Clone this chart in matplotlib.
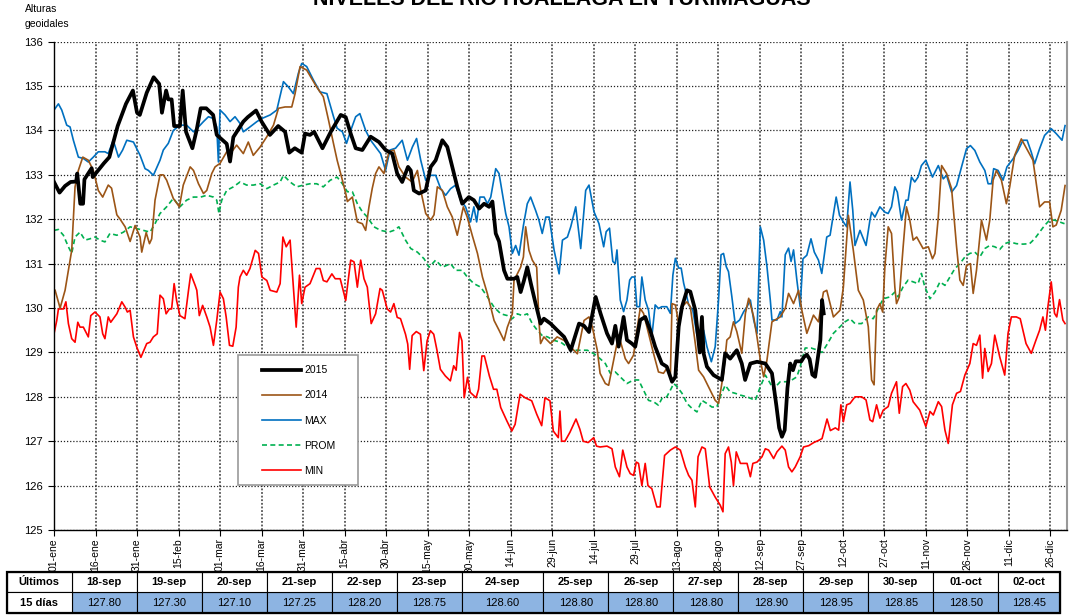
import matplotlib
matplotlib.use("Agg")
import matplotlib.pyplot as plt
from matplotlib.patches import Rectangle

plt.rcParams['font.family'] = ['Liberation Sans', 'DejaVu Sans']

# ---- data (x = days since 01-ene, y = altura geoidal) ----
serie_2015 = [(0, 132.84), (2, 132.6), (4, 132.75), (6, 132.84), (8, 132.85), (8.4, 133.03), (9.5, 132.35),
              (10.5, 132.35), (11, 132.9), (13.6, 133.15), (14, 132.95), (18, 133.26), (20, 133.4), (23, 134.1),
              (26, 134.6), (28.5, 134.9), (30, 134.4), (31, 134.35), (33.5, 134.85), (36, 135.2), (38, 135.05),
              (39, 134.4), (40.5, 134.9), (41.3, 134.7), (42.5, 134.7), (43.4, 134.1), (45.5, 134.1), (46.5, 134.9),
              (47.7, 133.97), (50, 133.6), (51.5, 134.0), (53, 134.5), (55, 134.5), (57.5, 134.35), (58.8, 133.9),
              (60.6, 133.8), (62.4, 133.7), (63.6, 133.3), (64.8, 133.85), (68.4, 134.2), (70, 134.3), (73, 134.45),
              (75, 134.2), (78, 133.9), (81, 134.1), (83.5, 133.97), (85, 133.5), (87, 133.6), (89.5, 133.5),
              (90.7, 133.93), (92.5, 133.9), (94, 133.97), (97, 133.6), (100, 133.97), (103.6, 134.35), (105.4, 134.3),
              (107.2, 133.93), (109, 133.6), (111.4, 133.56), (114.4, 133.86), (117.4, 133.74), (119.8, 133.56),
              (122.2, 133.48), (124, 133.03), (125.8, 132.84), (127.9, 133.18), (128.9, 133.1), (130, 132.65),
              (131.9, 132.58), (134.3, 132.65), (136.1, 133.18), (137.9, 133.33), (140.3, 133.78), (142.1, 133.63),
              (143.9, 133.18), (145.7, 132.73), (147.5, 132.35), (149.9, 132.5), (151.7, 132.43), (153.6, 132.24),
              (155.4, 132.35), (157.2, 132.28), (158.4, 132.4), (159.6, 131.68), (160.8, 131.5), (162.6, 130.85),
              (163.8, 130.66), (166.2, 130.66), (167.4, 130.7), (168.6, 130.36), (169.8, 130.62), (171, 130.92),
              (172.3, 130.55), (174, 130.1), (175.8, 129.65), (177, 129.76), (179.4, 129.65), (181.8, 129.5),
              (184.3, 129.35), (186.7, 129.05), (189.7, 129.65), (191.5, 129.6), (193.3, 129.46), (195.7, 130.25),
              (197.5, 129.87), (199.8, 129.43), (201.6, 129.2), (202.8, 129.6), (204, 129.13), (205.8, 129.8),
              (207, 129.28), (208.8, 129.2), (210, 129.13), (211.8, 129.73), (213.6, 129.8), (215.4, 129.5),
              (217.2, 129.13), (219.6, 128.75), (221.4, 128.68), (223.3, 128.34), (224.5, 128.45), (225.7, 129.58),
              (226.9, 130.03), (228.7, 130.4), (229.9, 130.37), (231.7, 129.95), (233.3, 129.0), (234.1, 129.8),
              (234.7, 128.98), (235.9, 128.68), (238.3, 128.49), (241.3, 128.38), (242.5, 128.98), (244.3, 128.86),
              (246.7, 129.05), (248.5, 128.75), (249.7, 128.38), (251.6, 128.75), (254, 128.79), (257, 128.75),
              (259.4, 128.53), (261, 127.8), (262, 127.3), (263, 127.1), (264, 127.25), (265, 128.2), (266, 128.75),
              (267, 128.6), (268, 128.8), (269, 128.8), (270, 128.8), (271, 128.9), (272, 128.95), (273, 128.85),
              (274, 128.5), (275, 128.45), (276.9, 129.28), (277.5, 130.18), (278.1, 129.88)]

serie_2014 = [(0.4, 130.4), (2.2, 130.0), (4, 130.4), (6.4, 131.3), (7.6, 132.73), (8.8, 133.1), (10.4, 133.4),
              (12.4, 133.33), (14.2, 133.1), (16, 132.65), (17.6, 132.5), (19.6, 132.77), (20.8, 132.7), (22.7, 132.1),
              (23.9, 132.0), (25.7, 131.83), (27.5, 131.5), (29.3, 131.86), (31.1, 131.6), (31.7, 131.26),
              (33.3, 131.7), (34.5, 131.45), (35.3, 131.56), (36.5, 132.43), (38.3, 133.0), (39.5, 133.0),
              (40.7, 132.88), (43.1, 132.47), (45.3, 132.28), (46.7, 132.77), (49.2, 133.18), (50.4, 133.1),
              (52.2, 132.8), (54, 132.58), (55.2, 132.65), (57, 133.03), (58.2, 133.18), (60, 133.26), (62.4, 133.52),
              (64.2, 133.52), (66, 133.67), (68.4, 133.48), (70.2, 133.74), (72, 133.44), (74.5, 133.63),
              (76.9, 133.86), (79.3, 134.12), (81.1, 134.5), (83.5, 134.53), (85.9, 134.53), (87.1, 134.83),
              (88.9, 135.44), (91.3, 135.36), (94.9, 134.98), (97.3, 134.76), (99.2, 134.23), (101, 133.7),
              (102.3, 133.33), (104.2, 132.88), (105.4, 132.58), (106, 132.4), (107.8, 132.5), (109.6, 131.94),
              (111.4, 131.9), (112.6, 131.75), (113.8, 132.28), (115, 132.7), (116.2, 133.03), (117.4, 133.18),
              (119.2, 133.03), (121, 133.52), (122.8, 133.56), (124.6, 133.18), (127, 132.95), (129.4, 132.84),
              (131.3, 133.1), (132.5, 132.65), (134.3, 132.13), (136.1, 131.98), (137.3, 132.1), (138.5, 132.73),
              (140.3, 132.65), (142.1, 132.28), (143.9, 132.05), (145.7, 131.64), (147.9, 132.28), (149.3, 132.05),
              (151.1, 131.64), (153, 131.23), (154.8, 130.7), (156.6, 130.32), (159, 129.72), (160.8, 129.5),
              (162.6, 129.27), (163.8, 129.57), (165.6, 129.87), (166.2, 130.62), (167.4, 130.77), (168.6, 130.92),
              (169.6, 131.15), (170.4, 131.83), (171.6, 131.3), (172.8, 131.08), (174.4, 130.92), (175.2, 129.72),
              (175.8, 129.2), (177, 129.35), (179.4, 129.2), (181.8, 129.35), (184.3, 129.27), (186.7, 129.12),
              (189.1, 128.97), (191.5, 129.72), (193.3, 129.8), (194.5, 129.57), (196.3, 129.05), (197.3, 128.53),
              (199.2, 128.3), (200.4, 128.26), (202.2, 128.83), (204, 129.39), (205.2, 129.13), (206.4, 128.86),
              (207.6, 128.75), (209.4, 128.94), (210.6, 129.5), (211.8, 129.99), (213, 129.88), (214.8, 129.43),
              (216.6, 128.98), (218.4, 128.56), (220.2, 128.53), (221.4, 128.64), (222.7, 128.49), (223.3, 130.1),
              (224.5, 130.07), (225.7, 129.65), (226.9, 130.03), (228.7, 130.14), (229.9, 130.03), (231.7, 129.2),
              (232.9, 128.6), (234.7, 128.45), (237.1, 128.15), (238.9, 127.92), (240.1, 127.85), (241.9, 128.53),
              (243.1, 129.28), (244.3, 129.35), (245.5, 129.69), (246.7, 129.47), (248.5, 128.98), (249.8, 129.88),
              (251, 130.22), (252.8, 129.8), (254, 129.35), (255.2, 128.83), (256.4, 128.45), (257.6, 128.83),
              (259.4, 129.69), (262.4, 129.8), (264.2, 129.99), (265.4, 130.33), (267.2, 130.1), (269, 130.4),
              (270.2, 129.95), (272, 129.43), (274.4, 129.84), (276.2, 129.69), (278, 130.36), (279.2, 130.4),
              (281.6, 129.8), (284, 129.95), (285.2, 130.47), (287, 132.09), (288.8, 131.3), (290.6, 130.4),
              (292.4, 130.18), (294.2, 129.58), (295.4, 128.38), (296.3, 128.27), (297.2, 129.95), (298.4, 130.1),
              (299.4, 129.91), (300.2, 130.93), (301.4, 131.83), (302.6, 131.68), (303.8, 130.47), (304.4, 130.1),
              (305.4, 130.25), (306.8, 131.38), (308, 132.28), (309.2, 131.98), (310.4, 131.53), (311.7, 131.6),
              (314, 131.34), (315.9, 131.38), (317.4, 131.11), (318.3, 131.23), (319.5, 132.05), (320.7, 133.21),
              (322.5, 133.03), (324.3, 132.69), (326.1, 131.38), (327.3, 130.63), (328.5, 130.51), (329.7, 130.96),
              (331.1, 131.0), (332.1, 130.33), (333.3, 130.85), (335.1, 131.98), (336.9, 131.53), (338.1, 131.98),
              (339.3, 132.88), (340.5, 133.1), (342.3, 132.88), (344.1, 132.35), (345.3, 132.73), (347.1, 133.44),
              (349.5, 133.81), (353.7, 133.33), (356.1, 132.28), (357.9, 132.39), (359.7, 132.39), (360.9, 131.83),
              (362.1, 131.87), (363.9, 132.2), (365.3, 132.76)]

serie_max = [(0, 134.46), (1.6, 134.6), (2.8, 134.46), (4.6, 134.12), (5.8, 134.08), (7, 133.78), (8.8, 133.4),
             (10.6, 133.37), (12.4, 133.29), (14.2, 133.4), (16, 133.52), (18.4, 133.52), (19.6, 133.48),
             (21.4, 133.78), (23.3, 133.4), (24.8, 133.56), (26.3, 133.78), (28.7, 133.74), (31.1, 133.44),
             (32.9, 133.14), (34.1, 133.1), (35.9, 132.99), (38.3, 133.33), (39.5, 133.56), (41.3, 133.71),
             (43.1, 134.0), (45.5, 134.12), (47.9, 134.12), (50.4, 133.97), (52.2, 134.08), (54, 134.2),
             (55.8, 134.31), (57.6, 134.27), (58.8, 134.08), (59.4, 133.29), (60, 134.46), (61.8, 134.35),
             (63.6, 134.2), (65.4, 134.31), (67.2, 134.16), (68.4, 133.97), (70.8, 134.08), (73.3, 134.2),
             (75.1, 134.27), (78.1, 134.35), (80.5, 134.46), (82.9, 135.1), (84.7, 134.98), (86.5, 134.83),
             (88.3, 135.29), (89.5, 135.51), (91.3, 135.44), (93.7, 135.14), (96.1, 134.87), (98.6, 134.83),
             (101, 134.31), (102.3, 134.05), (104.2, 133.97), (105.7, 133.71), (107.2, 134.0), (109, 134.31),
             (110.5, 134.38), (112.6, 134.0), (114.4, 133.78), (116.2, 133.63), (118, 133.48), (119.8, 133.1),
             (121.4, 133.56), (123.4, 133.6), (125.8, 133.78), (127.7, 133.33), (129.5, 133.63), (131, 133.82),
             (132.5, 133.33), (134.3, 132.88), (136.1, 132.99), (137.9, 132.99), (139.7, 132.69), (141.5, 132.54),
             (143.3, 132.69), (145.1, 132.77), (146.9, 132.43), (148.7, 132.28), (150.5, 131.94), (151.7, 132.28),
             (152.7, 131.94), (153.9, 132.5), (155.4, 132.5), (156.6, 132.35), (157.8, 132.5), (159.6, 133.14),
             (160.8, 133.03), (162, 132.58), (163.2, 132.13), (164.4, 131.83), (165.6, 131.23), (166.8, 131.41),
             (168, 131.19), (169.6, 131.86), (171, 132.35), (172.2, 132.5), (174, 132.2), (175.2, 131.98),
             (176.4, 131.68), (177.7, 132.05), (178.9, 132.05), (180.7, 131.3), (182.5, 130.77), (183.7, 131.53),
             (185.5, 131.6), (186.7, 131.83), (188.5, 132.28), (190.3, 131.34), (192.1, 132.65), (193.3, 132.77),
             (195.1, 132.17), (196.9, 131.9), (198.6, 131.38), (199.5, 131.72), (200.7, 131.8), (201.9, 131.05),
             (202.8, 131.0), (203.4, 131.31), (204.6, 130.18), (205.8, 129.92), (207, 130.18), (208, 130.63),
             (208.8, 130.7), (209.8, 130.7), (210.6, 130.03), (211.6, 130.03), (212.4, 130.7), (213.6, 130.18),
             (214.8, 129.95), (216, 129.35), (217.2, 130.07), (218.4, 129.99), (219.6, 130.03), (221.4, 130.03),
             (222.7, 129.88), (223.6, 130.74), (224.5, 131.12), (225.7, 130.9), (226.6, 130.9), (227.5, 130.56),
             (228.4, 130.33), (229.3, 130.07), (230.8, 129.95), (232.3, 129.39), (233.5, 129.39), (234.7, 129.5),
             (235.9, 129.13), (237.5, 128.79), (238.9, 129.13), (240.1, 130.18), (241, 131.2), (241.9, 131.23),
             (242.9, 130.93), (243.7, 130.82), (244.9, 130.26), (246.1, 129.65), (247.7, 129.73), (249.2, 129.92),
             (250.4, 130.03), (251.6, 130.18), (252.8, 129.73), (254, 129.43), (255.2, 131.83), (256.4, 131.53),
             (257.6, 130.93), (258.8, 130.18), (259.4, 129.73), (261.2, 129.73), (262.4, 129.92), (263, 129.8),
             (264.2, 131.2), (265.4, 131.35), (266.3, 131.05), (267.2, 131.31), (268.4, 130.63), (269.6, 130.03),
             (270.6, 131.11), (272, 131.19), (273.5, 131.56), (274.7, 131.26), (276.2, 131.08), (277.4, 130.78),
             (279.2, 131.6), (280.4, 131.64), (282.6, 132.5), (283.8, 132.09), (285.2, 131.94), (286.4, 131.83),
             (287.6, 132.84), (288.6, 132.2), (289.4, 131.41), (291.2, 131.75), (293.4, 131.41), (294.8, 131.98),
             (295.4, 132.16), (296.6, 132.05), (298.4, 132.28), (300.2, 132.16), (301.4, 132.13), (302.6, 132.28),
             (303.8, 132.73), (304.7, 132.61), (306.2, 131.98), (307.8, 132.43), (308.6, 132.43), (309.8, 132.95),
             (311, 132.84), (312.2, 132.95), (313.4, 133.21), (315, 133.33), (317.4, 132.95), (319.5, 133.21),
             (321.3, 132.91), (322.5, 132.99), (324.3, 132.61), (326.1, 132.76), (327.9, 133.18), (329.7, 133.59),
             (331.1, 133.66), (332.7, 133.55), (334.5, 133.29), (336.3, 133.1), (337.5, 132.8), (338.7, 132.8),
             (339.5, 133.14), (341.1, 133.1), (342.9, 132.88), (344.3, 133.18), (346.5, 133.36), (348.3, 133.55),
             (350.1, 133.78), (351.6, 133.78), (353.1, 133.51), (354.3, 133.25), (356.1, 133.59), (357.9, 133.89),
             (360.3, 134.04), (362.1, 133.93), (364.2, 133.78), (365.3, 134.11)]

serie_prom = [(0, 131.75), (1.6, 131.77), (3.4, 131.64), (5.2, 131.38), (6.4, 131.23), (7.6, 131.6), (9.4, 131.71),
              (11.2, 131.53), (13, 131.56), (14.8, 131.6), (16.6, 131.53), (18.4, 131.49), (20.2, 131.68),
              (22.7, 131.64), (25.1, 131.71), (27.5, 131.83), (29.9, 131.79), (32.3, 131.75), (34.7, 131.71),
              (36.5, 131.9), (38.3, 132.13), (40.7, 132.28), (43.1, 132.47), (45.5, 132.28), (47.9, 132.43),
              (50.4, 132.5), (53, 132.5), (55.2, 132.54), (57.6, 132.5), (58.8, 132.43), (59.6, 132.13),
              (60.6, 132.43), (62.4, 132.65), (64.8, 132.73), (67.2, 132.84), (69.6, 132.77), (72, 132.77),
              (74.5, 132.8), (76.9, 132.69), (79.3, 132.77), (81.7, 132.84), (82.9, 132.99), (85.3, 132.84),
              (87.7, 132.73), (90.1, 132.77), (92.5, 132.8), (94.9, 132.8), (97.3, 132.73), (99.8, 132.88),
              (102.3, 132.95), (104.2, 132.8), (106, 132.62), (107.8, 132.62), (109.6, 132.35), (111.4, 132.17),
              (113.2, 132.05), (115.6, 131.83), (118, 131.75), (121, 131.71), (122.8, 131.75), (124.6, 131.83),
              (127, 131.53), (128.9, 131.34), (131.3, 131.26), (133.7, 131.11), (135.5, 130.92), (137.9, 131.08),
              (140.3, 130.92), (143.3, 131.0), (145.1, 130.85), (147.5, 130.85), (149.3, 130.7), (151.7, 130.55),
              (154.2, 130.47), (156.6, 130.25), (159, 130.02), (161.4, 129.87), (163.8, 129.83), (165.6, 129.76),
              (167.4, 129.87), (169.2, 129.83), (171, 129.87), (172.8, 129.65), (174.6, 129.5), (176.4, 129.38),
              (178.3, 129.35), (180.7, 129.27), (183.1, 129.23), (185.5, 129.12), (187.9, 129.05), (190.3, 129.05),
              (192.7, 129.05), (195.1, 128.97), (197.3, 128.86), (199.2, 128.75), (201, 128.53), (202.8, 128.56),
              (204.6, 128.45), (207, 128.3), (209.4, 128.38), (211.2, 128.38), (213, 128.15), (214.8, 127.92),
              (216.6, 127.89), (218.4, 127.81), (219.6, 127.96), (221.4, 128.0), (222.7, 128.15), (223.9, 128.3),
              (225.1, 128.23), (226.9, 128.08), (228.7, 127.85), (230.5, 127.74), (232.3, 127.66), (234.1, 127.92),
              (235.9, 127.85), (237.7, 127.77), (239.5, 127.77), (240.7, 128.0), (242.5, 128.26), (244.3, 128.11),
              (246.1, 128.08), (247.9, 128.04), (250.4, 128.0), (253.4, 127.92), (255.2, 128.23), (257, 128.49),
              (258.8, 128.3), (260, 128.15), (261.2, 128.26), (262.4, 128.34), (264.8, 128.34), (266.6, 128.38),
              (268.4, 128.45), (269.6, 128.68), (271.4, 129.1), (273.5, 129.1), (275.5, 129.06), (277.5, 129.0),
              (279.5, 129.2), (281.6, 129.43), (284, 129.58), (285.8, 129.69), (287.6, 129.76), (289.4, 129.65),
              (291.8, 129.65), (294.2, 129.8), (296, 129.76), (297.8, 129.99), (299.6, 130.21), (302, 130.25),
              (303.8, 130.36), (305, 130.25), (306.8, 130.48), (308.6, 130.63), (310.4, 130.59), (312.2, 130.55),
              (313.4, 130.78), (314.6, 130.48), (316.5, 130.21), (318.3, 130.36), (320.1, 130.59), (321.9, 130.51),
              (323.7, 130.7), (325.5, 130.89), (327.3, 131.0), (329.1, 131.15), (330.9, 131.23), (332.7, 131.26),
              (334.5, 131.15), (336.3, 131.34), (338.1, 131.41), (339.9, 131.38), (341.7, 131.32), (343.5, 131.45),
              (345.3, 131.49), (347.7, 131.45), (350.1, 131.44), (352.5, 131.45), (354.3, 131.56), (356.1, 131.71),
              (357.9, 131.86), (359.7, 131.98), (361.5, 131.98), (363.3, 131.94), (365.1, 131.9)]

serie_min = [(0, 129.42), (1, 129.72), (1.6, 129.98), (3.4, 129.98), (4.3, 130.14), (5.2, 129.65), (6.4, 129.31),
             (7.6, 129.23), (8.6, 129.68), (9.4, 129.57), (10.6, 129.57), (12.4, 129.35), (13.3, 129.83),
             (14.8, 129.91), (16.6, 129.8), (17.6, 129.42), (18.4, 129.31), (19.6, 129.8), (20.5, 129.68),
             (22.7, 129.87), (24.5, 130.14), (25.7, 130.02), (26.5, 129.91), (27.5, 129.95), (28.7, 129.35),
             (29.9, 129.12), (31.4, 128.89), (33.5, 129.2), (34.7, 129.23), (35.9, 129.35), (37.3, 129.42),
             (38.3, 130.29), (39.5, 130.21), (40.5, 129.87), (41.7, 129.98), (42.5, 129.98), (43.4, 130.55),
             (44.3, 130.17), (45.5, 129.83), (47.3, 129.76), (48.6, 130.4), (49.4, 130.77), (51, 130.51),
             (51.6, 130.4), (52.5, 129.83), (53.7, 130.06), (55.2, 129.8), (56.4, 129.57), (57.6, 129.16),
             (58.8, 129.72), (60, 130.36), (61.2, 130.21), (62.2, 129.8), (63.4, 129.16), (64.6, 129.14),
             (65.8, 129.57), (66.6, 130.47), (67.2, 130.7), (68.4, 130.85), (69.6, 130.74), (70.8, 130.89),
             (72.7, 131.3), (73.9, 131.23), (75.1, 130.7), (76.9, 130.62), (78.1, 130.4), (80.5, 130.36),
             (81.7, 130.55), (82.7, 131.6), (83.9, 131.38), (85.3, 131.53), (86.5, 130.47), (87.5, 129.57),
             (88.7, 130.74), (89.5, 130.1), (90.7, 130.47), (92.5, 130.55), (94.7, 130.89), (96.1, 130.89),
             (97.3, 130.62), (98.6, 130.59), (100.4, 130.77), (101.6, 130.66), (103.4, 130.66), (105.4, 130.17),
             (107.2, 131.08), (108.4, 131.04), (109.6, 130.47), (110.8, 131.08), (112, 130.66), (113.2, 130.47),
             (114.6, 129.65), (116.2, 129.87), (117.8, 130.44), (118.6, 130.4), (120.4, 129.98), (121.6, 129.91),
             (122.8, 130.1), (124, 129.79), (125.2, 129.76), (127, 129.41), (127.8, 129.19), (128.5, 128.62),
             (129.4, 129.38), (130.9, 129.47), (132.4, 129.41), (133.6, 128.59), (134.8, 129.26), (136, 129.49),
             (137.2, 129.41), (138.4, 129.04), (139.6, 128.62), (141.4, 128.47), (143.2, 128.36), (144.4, 128.7),
             (145.3, 128.6), (146.5, 129.45), (147.4, 129.26), (148.2, 127.98), (149.4, 128.44), (150.4, 128.1),
             (152.5, 127.98), (153.4, 128.17), (154.6, 128.92), (155.5, 128.92), (157.3, 128.47), (158.8, 128.17),
             (160, 128.17), (161.4, 127.76), (163.6, 127.46), (165.4, 127.23), (166.6, 127.38), (168.4, 128.06),
             (170.2, 127.98), (172.6, 127.91), (174.4, 127.61), (176.2, 127.35), (177.4, 127.98), (179.2, 127.91),
             (180.4, 127.23), (182.2, 127.08), (182.8, 127.68), (183.4, 127.0), (184.6, 127.0), (186.4, 127.2),
             (188.6, 127.5), (190, 127.27), (191.2, 127.0), (193, 126.97), (195, 127.08), (196, 126.89),
             (197.3, 126.87), (199.8, 126.89), (201.6, 126.83), (202.8, 126.42), (204.3, 126.2), (205.5, 126.8),
             (207, 126.42), (208.2, 126.27), (209.4, 126.23), (210.4, 126.53), (211.2, 126.5), (212.4, 126.0),
             (213.6, 126.5), (214.6, 126.0), (216, 125.93), (217.8, 125.52), (219, 125.52), (220.6, 126.68),
             (222.7, 126.8), (224.5, 126.87), (226.3, 126.8), (228.1, 126.42), (229.3, 126.23), (230.5, 126.12),
             (231.7, 125.52), (232.7, 126.65), (234.1, 126.87), (235.3, 126.83), (236.9, 125.97), (238.9, 125.74),
             (240.7, 125.56), (241.7, 125.41), (242.5, 126.72), (243.7, 126.87), (244.7, 126.53), (245.5, 126.0),
             (246.5, 126.76), (248, 126.5), (250.4, 126.5), (251.6, 126.2), (252.5, 126.5), (254, 126.53),
             (255.8, 126.65), (257, 126.83), (258.2, 126.8), (260, 126.61), (261.2, 126.76), (263, 126.89),
             (264.2, 126.8), (265.4, 126.42), (266.6, 126.31), (267.8, 126.42), (269.6, 126.65), (270.8, 126.87),
             (272.7, 126.9), (274.5, 126.97), (276.3, 127.02), (277.5, 127.06), (279.3, 127.5), (280.5, 127.24),
             (282.3, 127.3), (283.5, 127.25), (284.3, 127.82), (285.2, 127.44), (286.4, 127.82), (287.6, 127.85),
             (289.4, 128.0), (291.8, 128.0), (293.4, 127.93), (294.8, 127.48), (295.8, 127.44), (297.2, 127.82),
             (298.4, 127.52), (299.6, 127.7), (301.4, 127.78), (302.6, 128.08), (304.4, 128.34), (305.4, 127.63),
             (306.6, 128.23), (307.8, 128.3), (309.2, 128.15), (310.4, 127.89), (312.8, 127.7), (315, 127.33),
             (316.5, 127.67), (317.7, 127.59), (319.5, 127.89), (320.7, 127.78), (321.9, 127.25), (323.1, 126.95),
             (324.6, 127.82), (326.1, 128.08), (327.5, 128.12), (329.1, 128.49), (330.9, 128.75), (332.1, 129.2),
             (333.3, 129.16), (334.5, 129.39), (335.5, 128.42), (336.3, 129.09), (337.5, 128.57), (338.7, 128.75),
             (339.9, 129.39), (341.7, 128.9), (343.5, 128.49), (344.7, 129.43), (345.9, 129.8), (347.7, 129.8),
             (349.1, 129.76), (351.2, 129.2), (353.1, 128.98), (354.8, 129.28), (356.1, 129.5), (357.3, 129.8),
             (358.2, 129.5), (359.1, 130.03), (360.3, 130.59), (361.5, 129.88), (362.3, 129.8), (363.3, 130.19),
             (364.5, 129.73), (365.3, 129.65)]

tick_days = list(range(0, 361, 15))
tick_labels = ['01-ene', '16-ene', '31-ene', '15-feb', '01-mar', '16-mar', '31-mar', '15-abr', '30-abr',
               '15-may', '30-may', '14-jun', '29-jun', '14-jul', '29-jul', '13-ago', '28-ago', '12-sep',
               '27-sep', '12-oct', '27-oct', '11-nov', '26-nov', '11-dic', '26-dic']

tabla_fechas = ['18-sep', '19-sep', '20-sep', '21-sep', '22-sep', '23-sep', '24-sep', '25-sep',
                '26-sep', '27-sep', '28-sep', '29-sep', '30-sep', '01-oct', '02-oct']
tabla_valores = [127.80, 127.30, 127.10, 127.25, 128.20, 128.75, 128.60, 128.80,
                 128.80, 128.80, 128.90, 128.95, 128.85, 128.50, 128.45]

W, H = 1083, 615
fig = plt.figure(figsize=(W / 100, H / 100), dpi=100)
ax = fig.add_axes([54 / W, 1 - 530 / H, (1067 - 54) / W, (530 - 41.7) / H])

series = [
    (serie_min, 'MIN', dict(color='#FF0000', lw=1.2)),
    (serie_prom, 'PROM', dict(color='#00B050', lw=1.2, dashes=(3, 2))),
    (serie_max, 'MAX', dict(color='#0070C0', lw=1.2)),
    (serie_2014, '2014', dict(color='#9C5516', lw=1.2)),
    (serie_2015, '2015', dict(color='black', lw=2.7)),
]
handles = {}
for data, name, style in series:
    xs, ys = zip(*data)
    ln, = ax.plot(xs, ys, solid_joinstyle='round', **style)
    handles[name] = ln

ax.set_xlim(0, 366)
ax.set_ylim(125, 136)
ax.set_yticks(range(125, 137))
ax.set_xticks(tick_days)
ax.set_xticklabels(tick_labels, rotation=90, fontsize=7.5)
ax.tick_params(axis='y', labelsize=8, length=4, width=0.8, pad=4)
ax.tick_params(axis='x', length=4, width=0.8, pad=2)

ax.grid(axis='y', color='#222222', lw=0.9, linestyle=(0, (1, 1.5)))
ax.grid(axis='x', color='#555555', lw=1.3, linestyle=(0, (1, 1)))
ax.set_axisbelow(True)
ax.spines['top'].set_visible(False)
ax.spines['right'].set_color('#999999')
ax.spines['right'].set_linewidth(1.5)
ax.spines['left'].set_linewidth(1.0)
ax.spines['bottom'].set_linewidth(1.0)

# title (cut at the top edge, as in the original sheet) and y caption
fig.text(562 / W, 1 - 5 / H, 'NIVELES DEL RIO HUALLAGA EN YURIMAGUAS', ha='center', va='baseline',
         fontsize=15.5, fontweight='bold')
fig.text(25 / W, 1 - 9 / H, 'Alturas', ha='left', va='center', fontsize=7.5)
fig.text(25 / W, 1 - 24 / H, 'geoidales', ha='left', va='center', fontsize=7.5)

# legend box
fig.patches.append(Rectangle((238 / W, 1 - 485 / H), 120 / W, 130 / H, transform=fig.transFigure,
                             facecolor='white', edgecolor='#999999', lw=1.2, zorder=3))
order = ['2015', '2014', 'MAX', 'PROM', 'MIN']
fig.legend([handles[k] for k in order], order, loc='upper left', bbox_to_anchor=(254 / W, 1 - 357 / H),
           frameon=False, fontsize=7.5, handlelength=3.7, handletextpad=0.3, labelspacing=1.45,
           borderpad=0.3)

# table of last 15 days
tab = fig.add_axes([0, 0, 1, 1])
tab.set_xlim(0, W)
tab.set_ylim(H, 0)
tab.axis('off')
col_edges = [6.7, 71.7, 136.7, 201.7, 266.7, 331.7, 396.7, 461.7, 543.3, 608.3, 673.3, 738.3, 803.3,
             868.3, 933.3, 998.3, 1060]
row_edges = [572, 592, 613]
for i in range(len(tabla_fechas)):
    x0, x1 = col_edges[i + 1], col_edges[i + 2]
    tab.add_patch(Rectangle((x0, row_edges[1]), x1 - x0, row_edges[2] - row_edges[1],
                            facecolor='#8DB4E2', edgecolor='black', lw=0.8))
    tab.add_patch(Rectangle((x0, row_edges[0]), x1 - x0, row_edges[1] - row_edges[0],
                            facecolor='white', edgecolor='black', lw=0.8))
    xc = (x0 + x1) / 2
    tab.text(xc, (row_edges[0] + row_edges[1]) / 2, tabla_fechas[i], ha='center', va='center',
             fontsize=8, fontweight='bold')
    tab.text(xc, (row_edges[1] + row_edges[2]) / 2, f'{tabla_valores[i]:.2f}', ha='center', va='center',
             fontsize=8)
for r in range(2):
    tab.add_patch(Rectangle((col_edges[0], row_edges[r]), col_edges[1] - col_edges[0],
                            row_edges[r + 1] - row_edges[r], facecolor='white', edgecolor='black', lw=0.8))
tab.text((col_edges[0] + col_edges[1]) / 2, (row_edges[0] + row_edges[1]) / 2, 'Últimos',
         ha='center', va='center', fontsize=8, fontweight='bold')
tab.text((col_edges[0] + col_edges[1]) / 2, (row_edges[1] + row_edges[2]) / 2, '15 días',
         ha='center', va='center', fontsize=8, fontweight='bold')
tab.add_patch(Rectangle((col_edges[0], row_edges[0]), col_edges[-1] - col_edges[0],
                        row_edges[-1] - row_edges[0], facecolor='none', edgecolor='black', lw=1.6))

fig.savefig('out.png', dpi=100)
